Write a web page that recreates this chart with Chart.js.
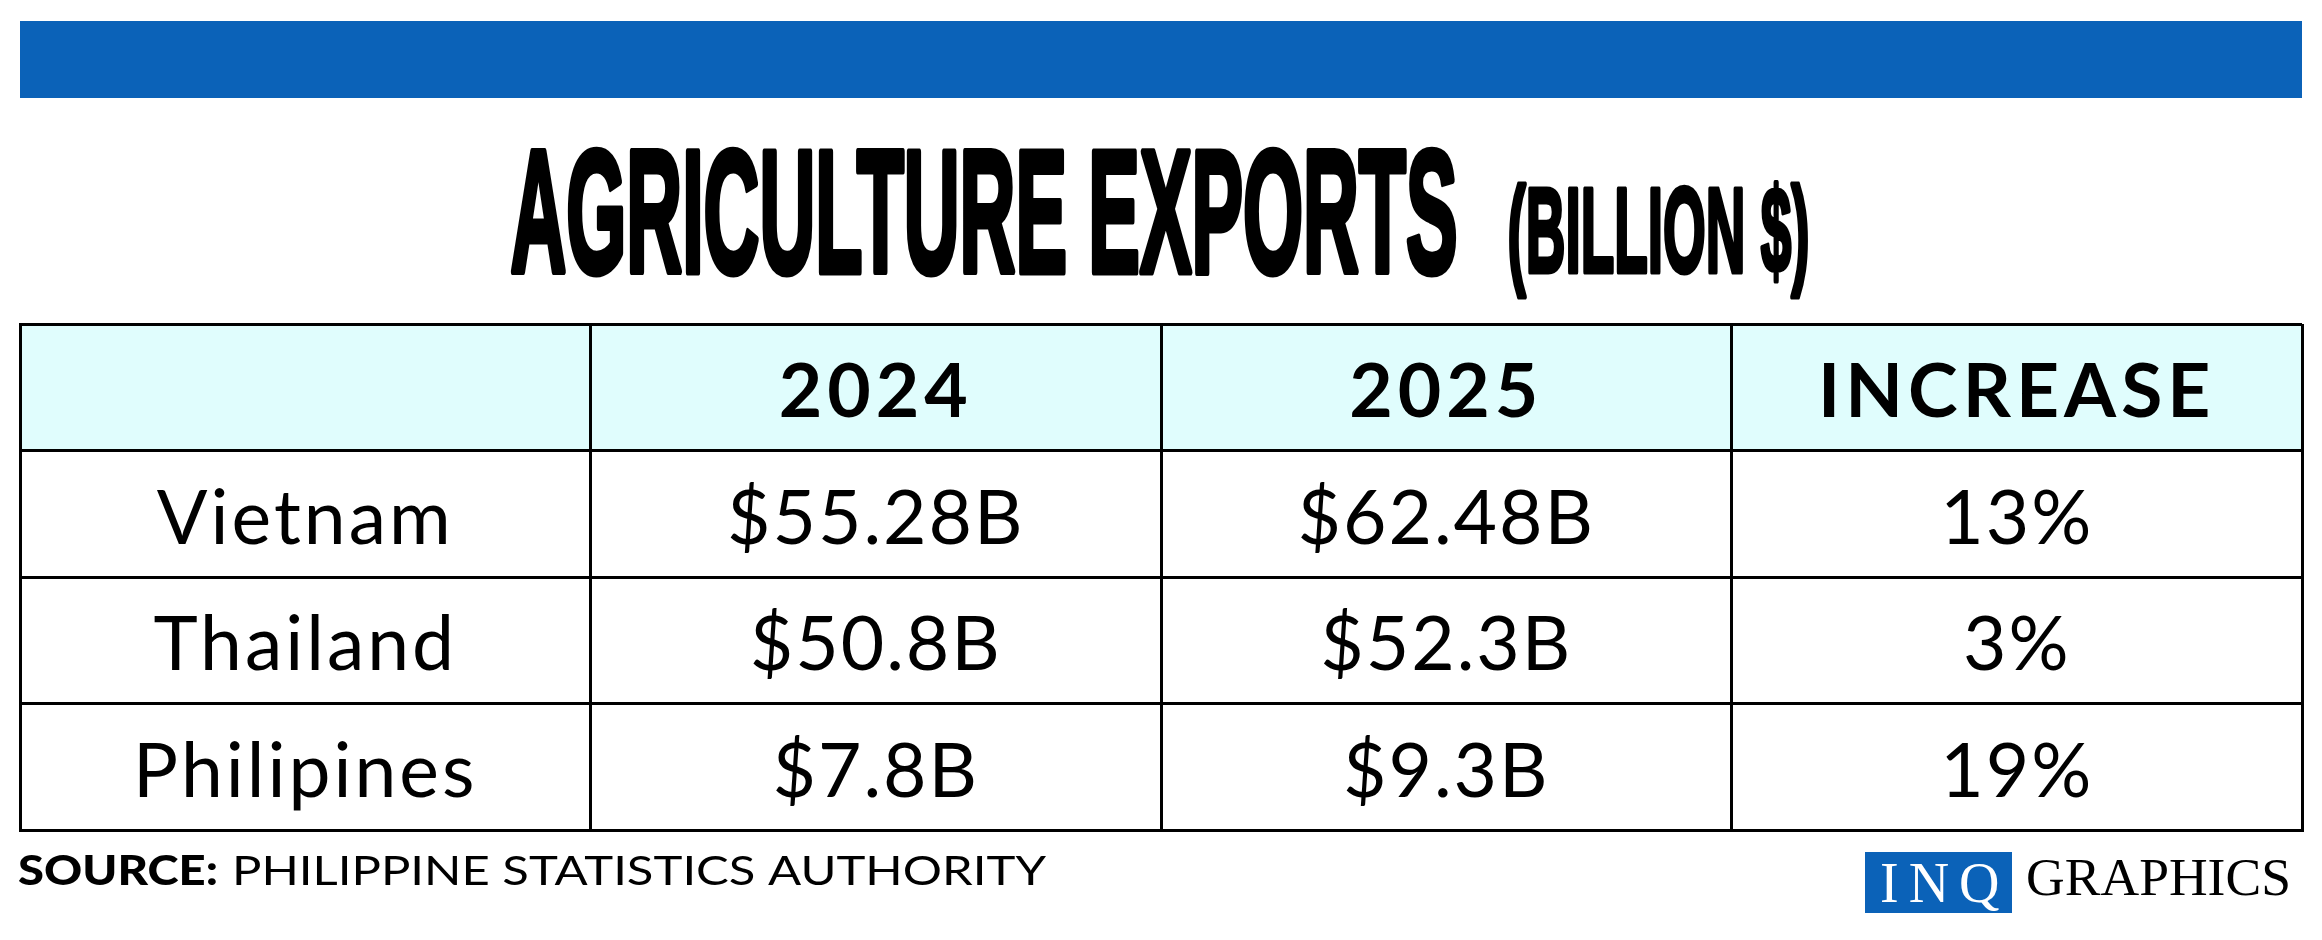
<!DOCTYPE html>
<html>
<head>
<meta charset="utf-8">
<script src="https://cdn.jsdelivr.net/npm/chart.js@4.4.0/dist/chart.umd.min.js"></script>
<style>
  html, body { margin: 0; padding: 0; background: #fff; }
  #wrap { width: 2322px; height: 940px; position: relative; }
</style>
</head>
<body>
<div id="wrap"><canvas id="chart"></canvas></div>
<script>
// table content
const columnHeaders = ['', '2024', '2025', 'INCREASE'];
const countries = ['Vietnam', 'Thailand', 'Philipines'];
const exports2024 = [55.28, 50.8, 7.8];
const exports2025 = [62.48, 52.3, 9.3];
const increasePct = [13, 3, 19];

const titleText = 'AGRICULTURE EXPORTS';
const unitText = '(BILLION $)';
const sourceLabel = 'SOURCE:';
const sourceText = 'PHILIPPINE STATISTICS AUTHORITY';

const BLUE = '#0b62b8';
const HEADER_FILL = '#e0fdfd';
const BODY_FONT = '400 75px Lato, "Noto Sans", sans-serif';
const HEAD_FONT = '700 75px Lato, "Noto Sans", sans-serif';

const money = v => '$' + v + 'B';

function cellColumn(col, texts, font, spacing, firstRow) {
    return {
        type: 'scatter',
        data: texts.map((t, r) => ({ x: col + 0.5, y: r + firstRow + 0.5 })),
        texts: texts,
        font: font,
        spacing: spacing,
        pointRadius: 0,
        showLine: false
    };
}

const datasets = [
    cellColumn(0, columnHeaders, HEAD_FONT, '5px', 0),
    cellColumn(0, countries, BODY_FONT, '3px', 1),
    cellColumn(1, exports2024.map(money), BODY_FONT, '2px', 1),
    cellColumn(2, exports2025.map(money), BODY_FONT, '2px', 1),
    cellColumn(3, increasePct.map(v => v + '%'), BODY_FONT, '2px', 1)
];
// header row sits across all columns
datasets[0].data = columnHeaders.map((t, i) => ({ x: i + 0.5, y: 0.5 }));

function drawSqueezed(ctx, text, font, x, baseline, width, stroke) {
    ctx.font = font;
    const w = ctx.measureText(text).width;
    ctx.save();
    ctx.translate(x + (stroke || 0) / 2, baseline);
    ctx.scale((width - (stroke || 0)) / w, 1);
    ctx.fillText(text, 0, 0);
    if (stroke) {
        ctx.lineJoin = 'round';
        ctx.strokeStyle = ctx.fillStyle;
        ctx.lineWidth = stroke;
        ctx.strokeText(text, 0, 0);
    }
    ctx.restore();
}

const tablePlugin = {
    id: 'tableDecor',
    beforeDraw(chart) {
        const { ctx, chartArea, scales } = chart;
        const yTop = scales.y.getPixelForValue(0);
        const yHead = scales.y.getPixelForValue(1);
        ctx.save();
        ctx.fillStyle = HEADER_FILL;
        ctx.fillRect(chartArea.left, yTop, chartArea.right - chartArea.left, yHead - yTop);
        ctx.restore();
    },
    afterDatasetsDraw(chart) {
        const ctx = chart.ctx;
        ctx.save();
        ctx.fillStyle = '#000';
        ctx.textAlign = 'center';
        ctx.textBaseline = 'alphabetic';
        chart.data.datasets.forEach((ds, i) => {
            const meta = chart.getDatasetMeta(i);
            ctx.font = ds.font;
            ctx.letterSpacing = ds.spacing;
            meta.data.forEach((el, j) => {
                ctx.fillText(ds.texts[j], el.x, el.y + 30);
            });
        });
        ctx.restore();
    },
    afterDraw(chart) {
        const { ctx, chartArea } = chart;
        ctx.save();
        // top band
        ctx.fillStyle = BLUE;
        ctx.fillRect(chartArea.left, 21, chartArea.right - chartArea.left, 77);

        // title
        ctx.fillStyle = '#000';
        ctx.textAlign = 'left';
        ctx.textBaseline = 'alphabetic';
        drawSqueezed(ctx, titleText, 'bold 174px "Liberation Sans Narrow", "Liberation Sans", sans-serif', 507, 272, 954, 7);
        drawSqueezed(ctx, unitText, 'bold 121px "Liberation Sans Narrow", "Liberation Sans", sans-serif', 1505, 272, 307, 5);

        // source line
        drawSqueezed(ctx, sourceLabel, '900 41px Lato, sans-serif', 18, 885, 200);
        drawSqueezed(ctx, sourceText, '400 41px Lato, sans-serif', 232, 885, 814);

        // logo
        ctx.fillStyle = BLUE;
        ctx.fillRect(1865, 852, 147, 61);
        ctx.fillStyle = '#fff';
        ctx.font = '56px "Liberation Serif", serif';
        ctx.letterSpacing = '10px';
        ctx.fillText('INQ', 1880, 902);
        ctx.letterSpacing = '0px';
        ctx.fillStyle = '#000';
        drawSqueezed(ctx, 'GRAPHICS', '53px "Liberation Serif", serif', 2026, 895, 265);
        ctx.restore();
    }
};

const gridStyle = { color: '#000', lineWidth: 3, drawTicks: false };
const borderStyle = { display: true, color: '#000', width: 3 };

new Chart(document.getElementById('chart'), {
    type: 'scatter',
    data: { datasets },
    options: {
        responsive: true,
        maintainAspectRatio: false,
        devicePixelRatio: 1,
        animation: false,
        events: [],
        layout: { padding: { left: 20, right: 20, top: 324, bottom: 110 } },
        plugins: { legend: { display: false }, tooltip: { enabled: false } },
        scales: {
            x: {
                type: 'linear', min: 0, max: 4,
                ticks: { display: false, stepSize: 1 },
                grid: gridStyle, border: borderStyle,
                afterFit(s) { s.height = 0; }
            },
            y: {
                type: 'linear', min: 0, max: 4, reverse: true,
                ticks: { display: false, stepSize: 1 },
                grid: gridStyle, border: borderStyle,
                afterFit(s) { s.width = 0; }
            }
        }
    },
    plugins: [tablePlugin]
});
</script>
</body>
</html>
